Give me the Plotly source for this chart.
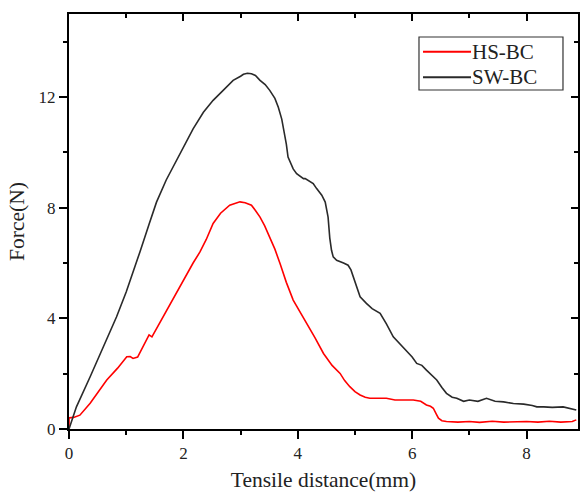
import plotly.graph_objects as go

# SW-BC (black)
sw_x = [0, 0.13, 0.37, 0.6, 0.83, 1.0, 1.18, 1.24, 1.4, 1.53, 1.7, 1.88, 2.02, 2.17, 2.35, 2.52, 2.7, 2.87, 3.0, 3.05, 3.12, 3.19, 3.26, 3.34, 3.43, 3.51, 3.6, 3.66, 3.72, 3.75, 3.8, 3.83, 3.92, 3.98, 4.1, 4.13, 4.27, 4.33, 4.42, 4.48, 4.53, 4.56, 4.59, 4.62, 4.68, 4.8, 4.88, 4.93, 4.97, 5.03, 5.09, 5.2, 5.3, 5.44, 5.55, 5.67, 5.8, 5.9, 6.0, 6.08, 6.17, 6.25, 6.35, 6.43, 6.52, 6.6, 6.7, 6.78, 6.9, 7.0, 7.15, 7.3, 7.45, 7.6, 7.77, 7.95, 8.1, 8.18, 8.3, 8.45, 8.64, 8.75, 8.87]
sw_y = [0, 0.8, 1.89, 2.95, 4.05, 4.95, 6.1, 6.4, 7.4, 8.2, 9.0, 9.71, 10.3, 10.85, 11.45, 11.88, 12.25, 12.6, 12.75, 12.82, 12.86, 12.84, 12.78, 12.6, 12.45, 12.24, 11.95, 11.63, 11.2, 10.9, 10.3, 9.83, 9.4, 9.23, 9.05, 9.05, 8.87, 8.69, 8.45, 8.2, 7.66, 6.9, 6.46, 6.22, 6.1, 6.0, 5.92, 5.75, 5.5, 5.1, 4.78, 4.54, 4.35, 4.18, 3.8, 3.33, 3.05, 2.85, 2.6, 2.37, 2.3, 2.13, 1.95, 1.77, 1.5, 1.29, 1.15, 1.11, 1.0, 1.05, 1.0, 1.11, 1.0, 0.98, 0.92, 0.9, 0.85, 0.8, 0.8, 0.78, 0.8, 0.74, 0.69]

# HS-BC (red)
hs_x = [0, 0, 0.08, 0.19, 0.37, 0.5, 0.66, 0.85, 1.01, 1.07, 1.12, 1.2, 1.36, 1.4, 1.45, 1.55, 1.71, 1.85, 2.0, 2.17, 2.29, 2.4, 2.52, 2.65, 2.81, 2.92, 2.99, 3.08, 3.19, 3.26, 3.34, 3.42, 3.51, 3.6, 3.69, 3.8, 3.92, 4.05, 4.16, 4.3, 4.45, 4.6, 4.74, 4.82, 4.91, 5.0, 5.09, 5.18, 5.26, 5.4, 5.55, 5.7, 5.85, 6.02, 6.15, 6.25, 6.32, 6.37, 6.42, 6.46, 6.52, 6.6, 6.8, 7.0, 7.18, 7.4, 7.6, 7.8, 8.0, 8.2, 8.4, 8.6, 8.8, 8.87]
hs_y = [0, 0.4, 0.42, 0.5, 0.93, 1.3, 1.77, 2.2, 2.61, 2.62, 2.55, 2.6, 3.2, 3.4, 3.33, 3.7, 4.3, 4.85, 5.38, 6.0, 6.4, 6.85, 7.43, 7.8, 8.09, 8.18, 8.21, 8.18, 8.09, 7.9, 7.66, 7.35, 6.94, 6.5, 5.98, 5.3, 4.66, 4.2, 3.82, 3.3, 2.73, 2.3, 2.01, 1.75, 1.53, 1.35, 1.23, 1.15, 1.11, 1.1, 1.11, 1.05, 1.05, 1.05, 1.0, 0.87, 0.82, 0.75, 0.55, 0.39, 0.3, 0.27, 0.25, 0.27, 0.24, 0.28, 0.25, 0.26, 0.27, 0.25, 0.28, 0.25, 0.27, 0.33]

series_names = ["HS-BC", "SW-BC"]
series_colors = ["#ff0000", "#2a2a2a"]

x_ticks = [0, 2, 4, 6, 8]
y_ticks = [0, 4, 8, 12]

FONT = "Liberation Serif, Times New Roman, serif"

fig = go.Figure()
fig.add_trace(go.Scatter(x=hs_x, y=hs_y, mode="lines", name=series_names[0],
                         line=dict(color=series_colors[0], width=1.6)))
fig.add_trace(go.Scatter(x=sw_x, y=sw_y, mode="lines", name=series_names[1],
                         line=dict(color=series_colors[1], width=1.6)))

axis_common = dict(showline=True, mirror=True, linecolor="black", linewidth=2, showgrid=False,
                   zeroline=False, ticks="outside", ticklen=8, tickwidth=1.5, automargin=False,
                   tickcolor="black", tickfont=dict(family=FONT, size=17, color="#222"))

fig.update_layout(
    width=583, height=492,
    margin=dict(l=69, r=5, t=14, b=63),
    paper_bgcolor="white", plot_bgcolor="white",
    font=dict(family=FONT, color="#222"),
    showlegend=False,
    xaxis=dict(range=[0, 8.9], tickvals=x_ticks,
               minor=dict(dtick=1, tick0=0, ticks="outside", ticklen=4, tickwidth=1.5, tickcolor="black"),
               title=dict(text="Tensile distance(mm)", font=dict(family=FONT, size=21.5), standoff=10),
               **axis_common),
    yaxis=dict(range=[0, 15], tickvals=y_ticks,
               minor=dict(dtick=2, tick0=0, ticks="outside", ticklen=4, tickwidth=1.5, tickcolor="black"),
               title=dict(text="Force(N)", font=dict(family=FONT, size=21.5), standoff=8),
               **axis_common),
    xaxis2=dict(overlaying="x", side="top", matches="x", range=[0, 8.9], tickvals=x_ticks,
                showticklabels=False, showline=False, automargin=False,
                ticks="inside", ticklen=7, tickwidth=1.5, tickcolor="black", showgrid=False,
                zeroline=False,
                minor=dict(dtick=1, tick0=0, ticks="inside", ticklen=4, tickwidth=1.5, tickcolor="black")),
    yaxis2=dict(overlaying="y", side="right", matches="y", range=[0, 15], tickvals=y_ticks,
                showticklabels=False, showline=False, automargin=False,
                ticks="inside", ticklen=7, tickwidth=1.5, tickcolor="black", showgrid=False,
                zeroline=False,
                minor=dict(dtick=2, tick0=0, ticks="inside", ticklen=4, tickwidth=1.5, tickcolor="black")),
)
# invisible trace to anchor the mirrored axes
fig.add_trace(go.Scatter(x=[0], y=[0], xaxis="x2", yaxis="y2", mode="markers",
                         marker=dict(opacity=0), showlegend=False, hoverinfo="skip"))

# legend box (drawn in paper coordinates)
fig.add_shape(type="rect", xref="paper", yref="paper", x0=0.6876, x1=0.9705, y0=0.8169, y1=0.9446,
              line=dict(color="#333", width=1.2), fillcolor="white", layer="above")
leg_y = [0.9092, 0.8475]
for name, color, yy in zip(series_names, series_colors, leg_y):
    fig.add_shape(type="line", xref="paper", yref="paper", x0=0.6955, x1=0.7898, y0=yy, y1=yy,
                  line=dict(color=color, width=2), layer="above")
    fig.add_annotation(xref="paper", yref="paper", x=0.7878, y=yy, xanchor="left", yanchor="middle",
                       text=name, showarrow=False, font=dict(family=FONT, size=21, color="#222"))

fig.write_html("out.html", post_script="document.body.style.margin='0';",
               config={"displayModeBar": False})
